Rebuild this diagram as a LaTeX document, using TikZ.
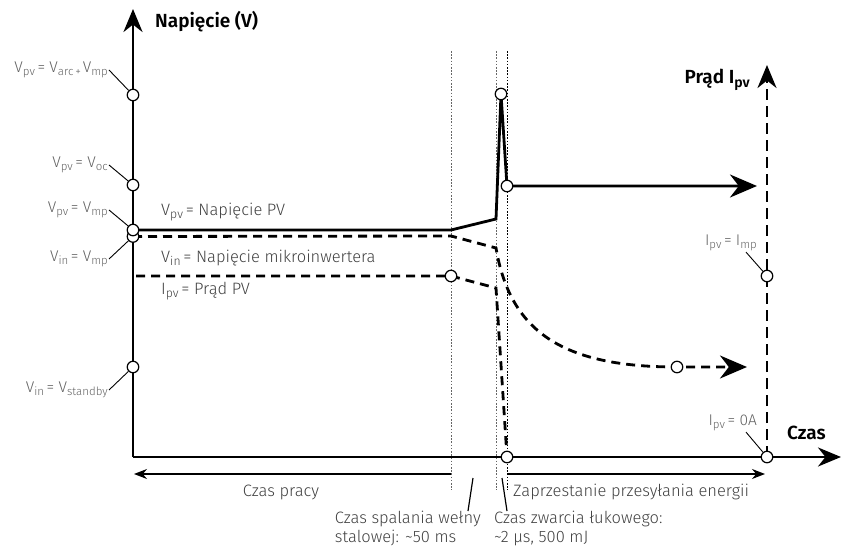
\documentclass[tikz,border=0pt]{standalone}
\usepackage{fontspec}
\usepackage{graphicx}
\setmainfont{Fira Sans Light}[BoldFont={Fira Sans SemiBold}]
\usetikzlibrary{arrows.meta}
\newcommand\lo[1]{\raisebox{-0.35ex}{\scalebox{0.74}{#1}}}
\tikzset{
  dot/.style={circle,draw,fill=white,line width=1.2pt,inner sep=0pt,minimum size=11.5pt},
  lbl/.style={text=black!62,inner sep=1pt,anchor=east,font=\fontsize{15.5}{17}\selectfont},
  txt/.style={text=black!75,inner sep=0pt,anchor=west,font=\fontsize{16.5}{19}\selectfont},
  ttl/.style={font=\bfseries\fontsize{19}{22}\selectfont,inner sep=0pt},
  leader/.style={line width=0.9pt},
  axis/.style={line width=2.8pt,-{Stealth[length=23pt,width=19pt]}},
  curve/.style={line width=2.8pt},
  dsh/.style={curve,dash pattern=on 9pt off 6pt},
  guide/.style={line width=0.8pt,dash pattern=on 1.6pt off 1.6pt},
  span/.style={line width=1.2pt,-{Stealth[length=13pt,width=10pt]}}
}
\begin{document}
\begin{tikzpicture}[x=1pt,y=-1pt]
\useasboundingbox (0,0) rectangle (844,548);
% points
\coordinate (o)     at (133,457);
\coordinate (ytop)  at (133,9);
\coordinate (xend)  at (841,457);
\coordinate (varc)  at (133,95);
\coordinate (voc)   at (133,185);
\coordinate (vmp)   at (133,230);
\coordinate (vin)   at (133,236.5);
\coordinate (vsb)   at (133,367);
\coordinate (a1)    at (451,230);
\coordinate (a2)    at (496,219);
\coordinate (spike) at (501,94);
\coordinate (down)  at (507,186);
\coordinate (aend)  at (757,186);
\coordinate (b1)    at (451,236);
\coordinate (b2)    at (496,248);
\coordinate (bdot)  at (677,367);
\coordinate (bend)  at (747,367);
\coordinate (c0)    at (136,276);
\coordinate (cdot)  at (451,276);
\coordinate (c2)    at (496,288);
\coordinate (czero) at (507,457);
\coordinate (imp)   at (767,276);
\coordinate (izero) at (767,457);
\coordinate (itop)  at (767,65);

% guides
\foreach \x/\c in {451/black!60,496/black!60,507.5/black}
  \draw[guide,\c] (\x,51) -- (\x,490);

% axes
\draw[axis] (o) -- (ytop);
\draw[axis] (o) -- (xend);
\draw[axis,dash pattern=on 11pt off 6pt] (izero) -- (itop);

% curves
\draw[curve,-{Stealth[length=27pt,width=23pt]}] (vmp) -- (a1) -- (a2) -- (spike) -- (down) -- (aend);
\draw[dsh,-{Stealth[length=27pt,width=23pt]}] (vin) -- (b1) -- (b2) .. controls (510,330) and (560,367) .. (bdot) -- (bend);
\draw[dsh] (c0) -- (cdot) -- (c2) -- (czero);

% dots
\foreach \p in {varc,voc,vin,vmp,vsb,spike,down,cdot,bdot,czero,imp,izero}
  \node[dot] (d-\p) at (\p) {};

% axis titles
\node[ttl,anchor=west] (ylab) at (155,22) {Napięcie (V)};
\node[ttl,anchor=east] (ilab) at (750,80) {Prąd I\lo{pv}};
\node[ttl,anchor=west] (xlab) at (787,433) {Czas};

% left labels
\node[lbl] (l-varc) at (109,70)  {V\lo{pv}\,= V\lo{arc\,+\,}V\lo{mp}};
\node[lbl] (l-voc)  at (109,165) {V\lo{pv}\,= V\lo{oc}};
\node[lbl] (l-vmp)  at (109,210) {V\lo{pv}\,= V\lo{mp}};
\node[lbl] (l-vin)  at (109,259) {V\lo{in}\,= V\lo{mp}};
\node[lbl] (l-vsb)  at (109,390) {V\lo{in}\,= V\lo{standby}};
\foreach \p in {varc,voc,vmp,vin,vsb}
  \draw[leader] (l-\p.east) -- (d-\p);

% right labels
\node[lbl] (l-imp)   at (758,243) {I\lo{pv}\,= I\lo{mp}};
\node[lbl] (l-izero) at (758,423) {I\lo{pv}\,= 0A};
\draw[leader] ([xshift=-12pt]l-imp.south east) -- (d-imp);
\draw[leader] ([xshift=-12pt]l-izero.south east) -- (d-izero);

% curve labels
\node[txt] (t-vpv) at (161,212) {V\lo{pv}\,= Napięcie PV};
\node[txt] (t-vin) at (161,258) {V\lo{in}\,= Napięcie mikroinwertera};
\node[txt] (t-ipv) at (161,291) {I\lo{pv}\,= Prąd PV};

% time spans
\coordinate (sl)  at (451,474);
\coordinate (sle) at (134,474);
\coordinate (sr)  at (508,474);
\coordinate (sre) at (765,474);
\draw[span] (sl) -- (sle);
\draw[span] (sr) -- (sre);
\node[txt,anchor=center] (t-pr) at (281,492) {Czas pracy};
\node[txt] (t-zap) at (513,492) {Zaprzestanie przesyłania energii};
\node[txt,align=left,anchor=north east] (t-spal) at (481,511) {Czas spalania wełny\\stalowej: \textasciitilde50 ms};
\node[txt,align=left,anchor=north west] (t-zw) at (494,511) {Czas zwarcia łukowego:\\\textasciitilde2 µs, 500 mJ};
\coordinate (p1) at (473,478);
\coordinate (p2) at (468,511);
\coordinate (q1) at (502,478);
\coordinate (q2) at (507,511);
\draw[leader,line width=1.2pt] (p1) -- (p2);
\draw[leader,line width=1.2pt] (q1) -- (q2);
\end{tikzpicture}
\end{document}
